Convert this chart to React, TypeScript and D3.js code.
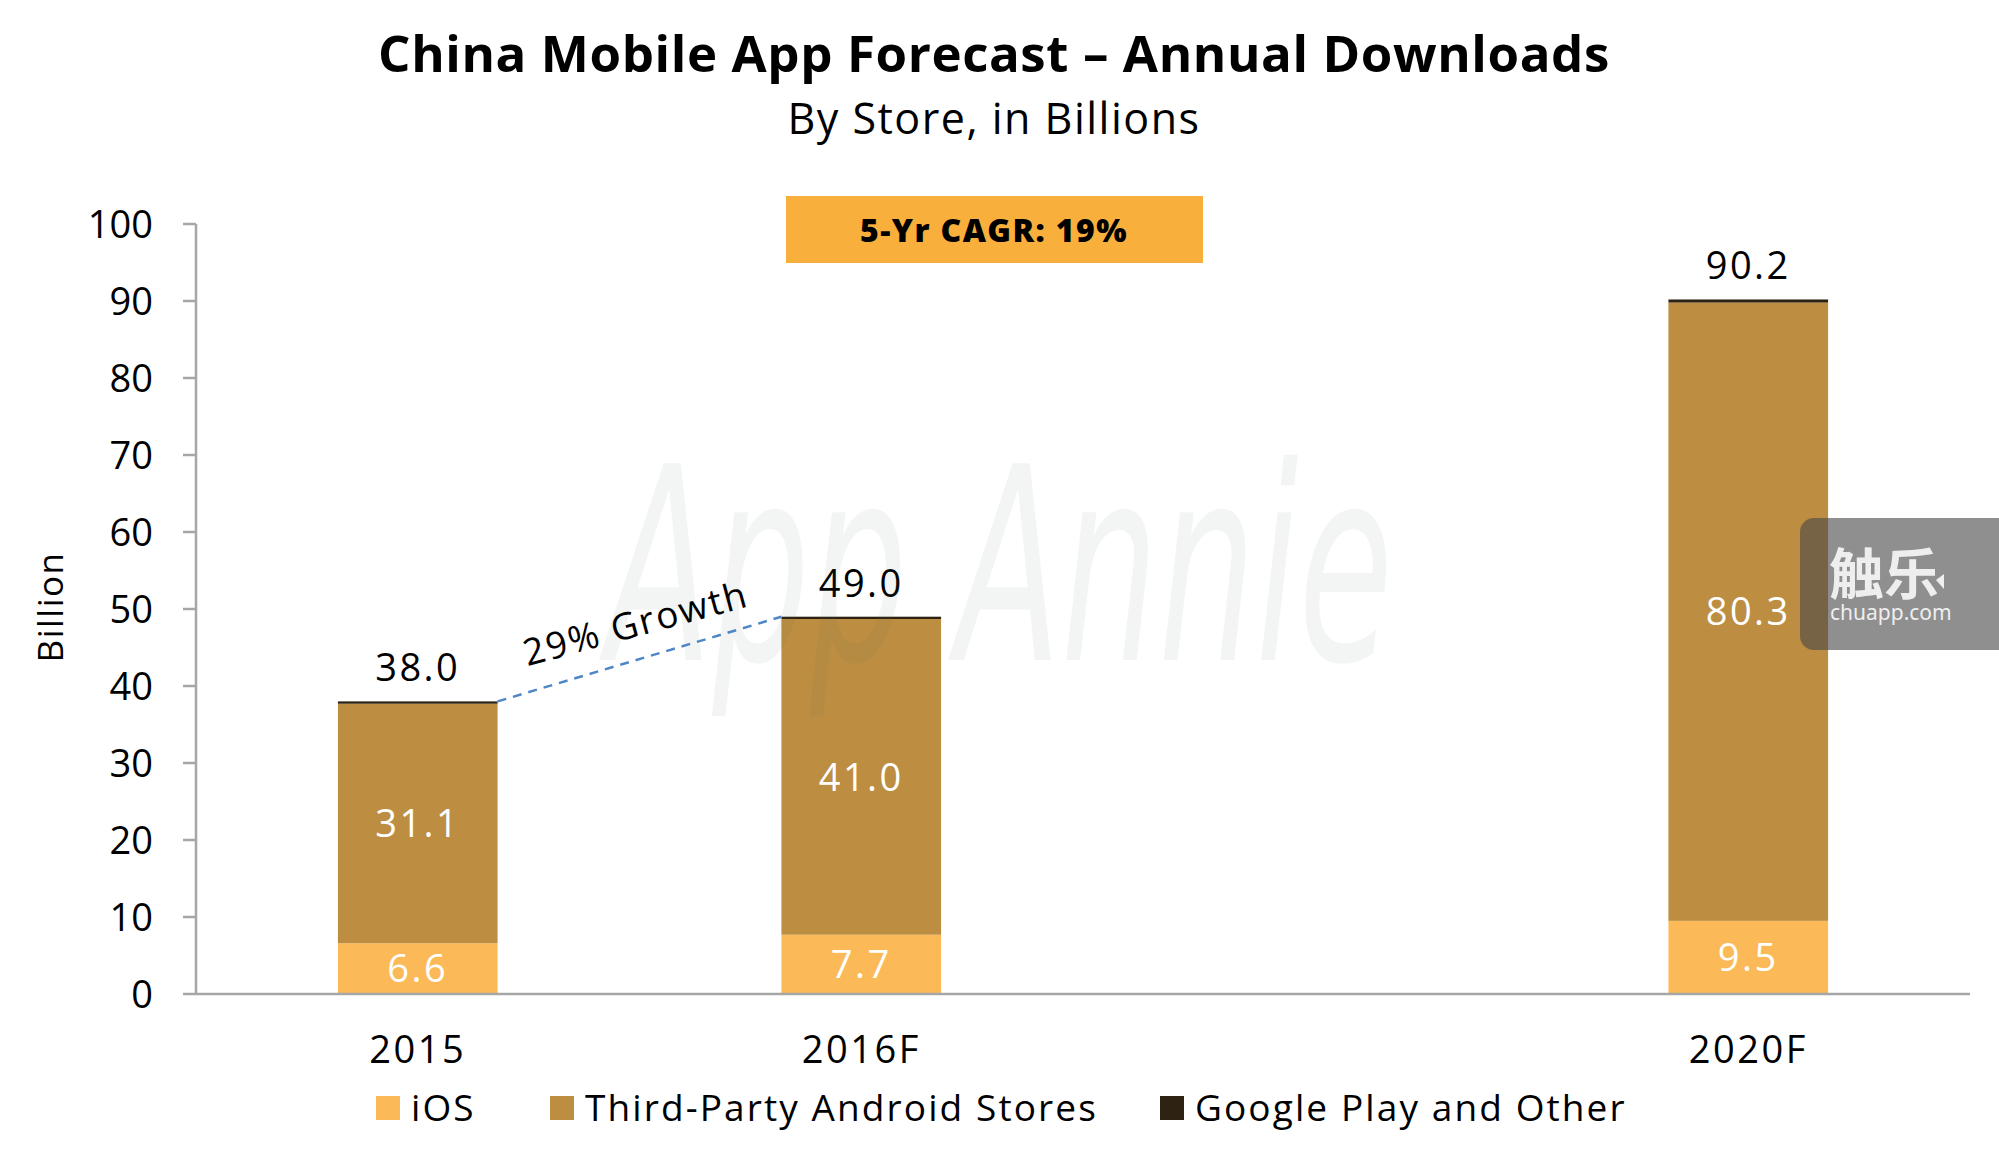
import React from "react";
import * as d3 from "d3";

const categories = ["2015", "2016F", "", "2020F"];
const seriesNames = ["iOS", "Third-Party Android Stores", "Google Play and Other"];
const iosValues = [6.6, 7.7, null, 9.5];
const thirdPartyValues = [31.1, 41.0, null, 80.3];
const googleValues = [0.3, 0.3, null, 0.4];
const totals = [38.0, 49.0, null, 90.2];
const yTicks = [0, 10, 20, 30, 40, 50, 60, 70, 80, 90, 100];
const colors = ["#FBBA57", "#BD8D41", "#2E2213"];

const width = 1999;
const height = 1170;
const margin = { top: 224, right: 29, bottom: 176, left: 196 };
const FONT = "'Open Sans', Lato, sans-serif";

const App: React.FC = () => {
  const x = d3
    .scaleBand()
    .domain(categories)
    .range([margin.left, width - margin.right])
    .paddingInner(0.64)
    .paddingOuter(0.32);

  const y = d3
    .scaleLinear()
    .domain([0, 100])
    .range([height - margin.bottom, margin.top]);

  const rows = categories
    .map((c, i) => ({
      cat: c,
      ios: iosValues[i],
      third: thirdPartyValues[i],
      google: googleValues[i],
      total: totals[i],
    }))
    .filter((d) => d.ios !== null);

  const stack = d3.stack<any>().keys(["ios", "third", "google"]);
  const series = stack(rows);

  const y0 = y(0);
  const bw = x.bandwidth();

  // growth line from 2015 top-right to 2016F top-left
  const gx1 = x("2015")! + bw;
  const gy1 = y(totals[0]!);
  const gx2 = x("2016F")!;
  const gy2 = y(totals[1]!);
  const angle = (Math.atan2(gy2 - gy1, gx2 - gx1) * 180) / Math.PI;

  return (
    <svg
      width={width}
      height={height}
      style={{ position: "absolute", left: 0, top: 0, background: "#fff" }}
      fontFamily={FONT}
    >
      {/* title */}
      <text x={994} y={72} textAnchor="middle" fontSize={51} fontWeight={700} letterSpacing={0.6} fill="#000">
        China Mobile App Forecast – Annual Downloads
      </text>
      <text x={994} y={134} textAnchor="middle" fontSize={43} letterSpacing={1.5} fill="#000">
        By Store, in Billions
      </text>

      {/* CAGR box */}
      <rect x={786} y={196} width={417} height={67} fill="#F9AF3B" />
      <text x={994} y={242} textAnchor="middle" fontSize={32} fontWeight={800} letterSpacing={1.4} fill="#000">
        5-Yr CAGR: 19%
      </text>

      {/* bars */}
      {series.map((s, si) => (
        <g key={si} fill={colors[si]}>
          {s.map((d: any, i: number) => (
            <rect
              key={i}
              x={x(d.data.cat)}
              y={y(d[1])}
              width={bw}
              height={y(d[0]) - y(d[1])}
            />
          ))}
        </g>
      ))}

      {/* segment labels */}
      {series.slice(0, 2).map((s, si) => (
        <g key={"l" + si}>
          {s.map((d: any, i: number) => (
            <text
              key={i}
              x={x(d.data.cat)! + bw / 2}
              y={y((d[0] + d[1]) / 2)}
              dy="0.36em"
              textAnchor="middle"
              fontSize={38}
              letterSpacing={2.5}
              fill="#fff"
            >
              {(d[1] - d[0]).toFixed(1)}
            </text>
          ))}
        </g>
      ))}

      {/* totals */}
      {rows.map((d, i) => (
        <text
          key={"t" + i}
          x={x(d.cat)! + bw / 2}
          y={y(d.total!) - 20}
          textAnchor="middle"
          fontSize={38}
          letterSpacing={2.5}
          fill="#000"
        >
          {d.total!.toFixed(1)}
        </text>
      ))}

      {/* watermark */}
      <text
        x={1000}
        y={660}
        textAnchor="middle"
        fontSize={270}
        fontStyle="italic"
        fontFamily="'DejaVu Sans Condensed', 'DejaVu Sans', sans-serif"
        textLength={786}
        lengthAdjust="spacingAndGlyphs"
        fill="rgb(90,115,100)"
        fillOpacity={0.07}
      >
        App Annie
      </text>

      {/* growth line */}
      <line
        x1={gx1}
        y1={gy1}
        x2={gx2}
        y2={gy2}
        stroke="#4F86C6"
        strokeWidth={2.5}
        strokeDasharray="9,7"
      />
      <text
        transform={`translate(639,636) rotate(${angle + 1.5})`}
        textAnchor="middle"
        fontSize={37}
        letterSpacing={2}
        fill="#000"
      >
        29% Growth
      </text>

      {/* y axis */}
      <line x1={margin.left} x2={margin.left} y1={y(100)} y2={y0} stroke="#A6A6A6" strokeWidth={2.5} />
      {yTicks.map((t) => (
        <g key={t}>
          <line x1={margin.left - 13} x2={margin.left} y1={y(t)} y2={y(t)} stroke="#A6A6A6" strokeWidth={2.5} />
          <text x={153} y={y(t)} dy="0.36em" textAnchor="end" fontSize={38} fill="#000">
            {t}
          </text>
        </g>
      ))}
      <text
        transform={`translate(50,607) rotate(-90)`}
        textAnchor="middle"
        dy="0.36em"
        fontSize={35}
        letterSpacing={1.5}
        fill="#000"
      >
        Billion
      </text>

      {/* x axis */}
      <line x1={margin.left} x2={width - margin.right} y1={y0} y2={y0} stroke="#A6A6A6" strokeWidth={2.5} />
      {categories
        .filter((c) => c !== "")
        .map((c) => (
          <text key={c} x={x(c)! + bw / 2} y={1063} textAnchor="middle" fontSize={38} letterSpacing={2.5} fill="#000">
            {c}
          </text>
        ))}

      {/* legend */}
      {seriesNames.map((n, i) => {
        const lx = [376, 550, 1160][i];
        return (
          <g key={n}>
            <rect x={lx} y={1096} width={24} height={24} fill={colors[i]} />
            <text x={lx + 35} y={1121} fontSize={37} letterSpacing={2.1} fill="#000">
              {n}
            </text>
          </g>
        );
      })}

      {/* chuapp badge */}
      <rect x={1800} y={518} width={230} height={132} rx={14} fill="rgb(75,75,75)" fillOpacity={0.62} />
      <text x={1829} y={594} fontSize={55} fontWeight={700} fill="#eeeeee" fontFamily="'Noto Sans CJK SC', sans-serif">
        触乐
      </text>
      <path d="M1936,580 L1944,574 L1944,589 Z" fill="#eeeeee" />
      <text x={1830} y={620} fontSize={21} fill="#eeeeee" fontFamily="'Noto Sans', sans-serif">
        chuapp.com
      </text>
    </svg>
  );
};

export default App;
